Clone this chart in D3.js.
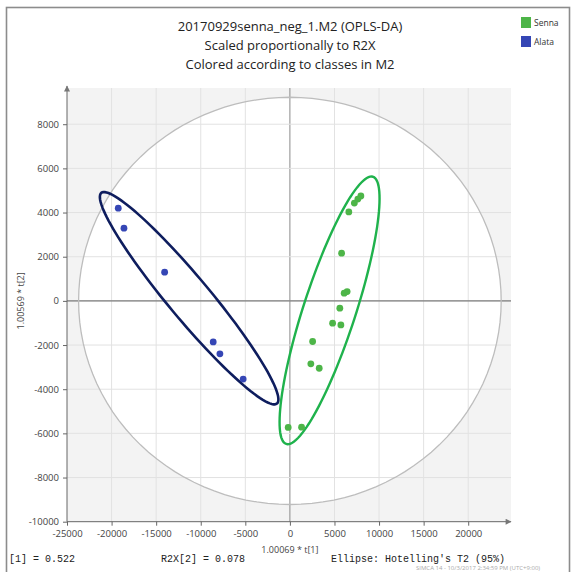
<!DOCTYPE html>
<html lang="en">
<head>
    <meta charset="UTF-8">
    <title>OPLS-DA score plot</title>
    <script src="https://d3js.org/d3.v7.min.js"></script>
    <style>
        body { margin: 0; background: #fff; }
        .tick text { font-family: 'Open Sans', sans-serif; font-size: 9.5px; fill: #444; }
        .tick line { stroke: #666; }
        .grid { stroke: #e2e2e2; stroke-width: 1; }
        .zero { stroke: #8a8a8a; stroke-width: 1; }
    </style>
</head>
<body>
    <script>
        // Chart data
        const sennaX = [7960, 7620, 7230, 6610, 5800, 6420, 6090, 5600, 4790, 5720, 2550, 2350, 3290, -190, 1310];
        const sennaY = [4750, 4610, 4430, 4030, 2160, 420, 350, -330, -1010, -1090, -1840, -2850, -3050, -5730, -5720];
        const alataX = [-19250, -18610, -14050, -8600, -7850, -5240];
        const alataY = [4200, 3290, 1300, -1860, -2400, -3540];

        // class ellipses: centre, major semi-axis vector, minor semi-axis vector (data units)
        const sennaEllipse = { c: [4450, -430], a: [4865, 6050], b: [2790, -370] };
        const alataEllipse = { c: [-11300, 120], a: [9850, -4770], b: [1800, 600] };
        // Hotelling's T2 (95%) radii
        const t2Radii = [23700, 9220];

        const xTicks = d3.range(-25000, 20001, 5000);
        const yTicks = d3.range(-10000, 8001, 2000);
        const xGrid = d3.range(-20000, 20001, 5000);
        const yGrid = d3.range(-8000, 8001, 2000);

        const titles = ['20170929senna_neg_1.M2 (OPLS-DA)', 'Scaled proportionally to R2X', 'Colored according to classes in M2'];
        const classes = ['Senna', 'Alata'];
        const colors = { Senna: '#4db548', Alata: '#3546b5' };

        const width = 573, height = 572;

        const svg = d3.select('body').append('svg')
            .attr('width', width)
            .attr('height', height);

        const x = d3.scaleLinear().domain([-25000, 24800]).range([67, 511]);
        const y = d3.scaleLinear().domain([-10000, 9640]).range([521.7, 88]);

        // outer frame
        svg.append('rect')
            .attr('x', 6.5).attr('y', 7.5)
            .attr('width', 563).attr('height', 580)
            .attr('fill', 'none').attr('stroke', '#8c8c8c').attr('stroke-width', 1.6);

        // titles
        svg.selectAll('.title')
            .data(titles)
            .enter().append('text')
            .attr('x', 290)
            .attr('y', (d, i) => 31 + i * 19)
            .attr('text-anchor', 'middle')
            .style('font-family', "'Open Sans', sans-serif")
            .style('font-size', '13px')
            .style('fill', '#222')
            .text(d => d);

        // legend
        const legend = svg.selectAll('.legend')
            .data(classes)
            .enter().append('g')
            .attr('transform', (d, i) => `translate(521, ${17 + i * 19})`);
        legend.append('rect')
            .attr('width', 10).attr('height', 11)
            .attr('fill', d => colors[d]);
        legend.append('text')
            .attr('x', 13).attr('y', 8.5)
            .style('font-family', "'Open Sans', sans-serif")
            .style('font-size', '8.5px')
            .style('fill', '#333')
            .text(d => d);

        // plot background
        svg.append('rect')
            .attr('x', x(-25000)).attr('y', y(9640))
            .attr('width', x(24800) - x(-25000))
            .attr('height', y(-10000) - y(9640))
            .attr('fill', '#f3f3f3');

        // ellipse helper: points in data space through the scales
        function ellipsePath(c, a, b) {
            const pts = d3.range(0, 361, 3).map(t => {
                const r = t * Math.PI / 180;
                return [x(c[0] + a[0] * Math.cos(r) + b[0] * Math.sin(r)),
                        y(c[1] + a[1] * Math.cos(r) + b[1] * Math.sin(r))];
            });
            return d3.line()(pts) + 'Z';
        }

        const t2Path = ellipsePath([0, 0], [t2Radii[0], 0], [0, t2Radii[1]]);
        svg.append('path').attr('d', t2Path).attr('fill', '#fff');

        // grid
        svg.selectAll('.gx').data(xGrid).enter().append('line')
            .attr('class', d => d === 0 ? 'zero' : 'grid')
            .attr('x1', d => x(d)).attr('x2', d => x(d))
            .attr('y1', y(9640)).attr('y2', y(-10000));
        svg.selectAll('.gy').data(yGrid.concat([0])).enter().append('line')
            .attr('class', d => d === 0 ? 'zero' : 'grid')
            .attr('x1', x(-25000)).attr('x2', x(24800))
            .attr('y1', d => y(d)).attr('y2', d => y(d));

        svg.append('path').attr('d', t2Path)
            .attr('fill', 'none').attr('stroke', '#bdbdbd').attr('stroke-width', 1.3);

        // class ellipses
        svg.append('path').attr('d', ellipsePath(alataEllipse.c, alataEllipse.a, alataEllipse.b))
            .attr('fill', 'none').attr('stroke', '#0e1d5e').attr('stroke-width', 2.6);
        svg.append('path').attr('d', ellipsePath(sennaEllipse.c, sennaEllipse.a, sennaEllipse.b))
            .attr('fill', 'none').attr('stroke', '#1fb24c').attr('stroke-width', 2.4);

        // points
        svg.selectAll('.alata').data(alataX).enter().append('circle')
            .attr('cx', d => x(d)).attr('cy', (d, i) => y(alataY[i]))
            .attr('r', 3.4).attr('fill', colors.Alata);
        svg.selectAll('.senna').data(sennaX).enter().append('circle')
            .attr('cx', d => x(d)).attr('cy', (d, i) => y(sennaY[i]))
            .attr('r', 3.4).attr('fill', colors.Senna);

        // axes
        const axisX = svg.append('g').attr('transform', `translate(0, ${y(-10000)})`);
        axisX.call(d3.axisBottom(x).tickValues(d3.range(-25000, 24001, 1000)).tickSize(3).tickFormat(''));
        axisX.call(d3.axisBottom(x).tickValues(xTicks).tickSize(4).tickFormat(d => String(d)).tickPadding(5));
        axisX.selectAll('.domain').remove();

        const axisY = svg.append('g').attr('transform', `translate(${x(-25000)}, 0)`);
        axisY.call(d3.axisLeft(y).tickValues(d3.range(-10000, 9601, 400)).tickSize(3).tickFormat(''));
        axisY.call(d3.axisLeft(y).tickValues(yTicks).tickSize(4).tickFormat(d => String(d)).tickPadding(4));
        axisY.selectAll('.domain').remove();

        svg.append('defs').append('marker')
            .attr('id', 'arrow').attr('viewBox', '0 0 10 10')
            .attr('refX', 9).attr('refY', 5)
            .attr('markerWidth', 10).attr('markerHeight', 6)
            .attr('markerUnits', 'userSpaceOnUse')
            .attr('orient', 'auto')
            .append('path').attr('d', 'M0,0L10,5L0,10Z').attr('fill', '#777');

        svg.append('line')
            .attr('x1', x(-25000)).attr('x2', x(24800))
            .attr('y1', y(-10000)).attr('y2', y(-10000))
            .attr('stroke', '#666').attr('marker-end', 'url(#arrow)');
        svg.append('line')
            .attr('x1', x(-25000)).attr('x2', x(-25000))
            .attr('y1', y(-10000)).attr('y2', y(9640) - 2)
            .attr('stroke', '#666').attr('marker-end', 'url(#arrow)');

        // axis labels
        svg.append('text')
            .attr('x', x(0)).attr('y', 553)
            .attr('text-anchor', 'middle')
            .style('font-family', "'Open Sans', sans-serif").style('font-size', '9px').style('fill', '#444')
            .text('1.00069 * t[1]');
        svg.append('text')
            .attr('transform', `translate(24, ${y(0)}) rotate(-90)`)
            .attr('text-anchor', 'middle')
            .style('font-family', "'Open Sans', sans-serif").style('font-size', '9px').style('fill', '#444')
            .text('1.00569 * t[2]');

        // footer
        const footer = [['[1] = 0.522', 9], ['R2X[2] = 0.078', 161], ["Ellipse: Hotelling's T2 (95%)", 331]];
        svg.selectAll('.foot').data(footer).enter().append('text')
            .attr('x', d => d[1]).attr('y', 562)
            .style('font-family', "'Liberation Mono', monospace").style('font-size', '10px').style('fill', '#222')
            .text(d => d[0]);
        svg.append('text')
            .attr('x', 416).attr('y', 569.5)
            .style('font-family', "'Open Sans', sans-serif").style('font-size', '6px').style('fill', '#aaa')
            .text('SIMCA 14 - 10/3/2017 2:34:59 PM (UTC+9:00)');
    </script>
</body>
</html>
